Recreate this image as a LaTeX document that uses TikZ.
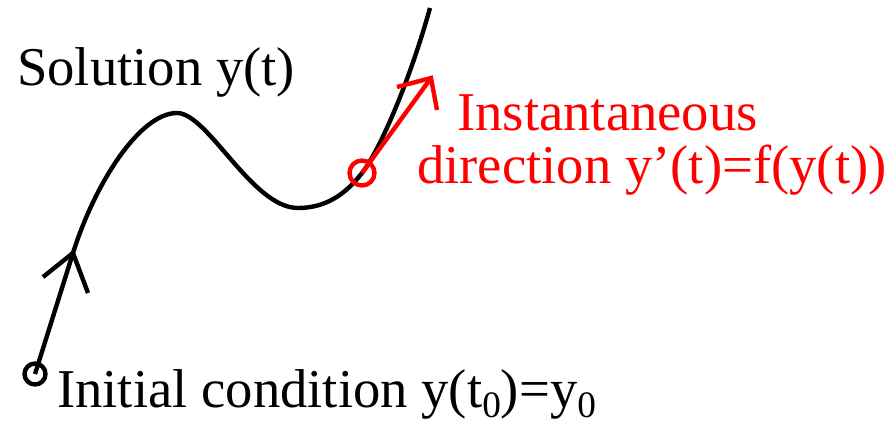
\documentclass[tikz,border=0pt]{standalone}
\usepackage{fontspec}
\setmainfont{Liberation Serif}
\newcommand{\lowzero}{\raisebox{-8pt}{\fontsize{28}{28}\selectfont 0}}
\begin{document}
\begin{tikzpicture}[x=0.75pt, y=-0.75pt, line width=3.3pt, line join=miter,
    lbl/.style={anchor=base west, inner sep=0pt, font=\rmfamily\fontsize{41}{48}\selectfont}]
  \useasboundingbox (0,0) rectangle (894,425);
  % 초기값과 해 곡선
  \coordinate (start) at (35,374);
  \coordinate (barb) at (73,253);
  \coordinate (peak) at (177,113);
  \coordinate (dip) at (298,208);
  \coordinate (pt) at (362,173);
  \coordinate (top) at (430,8);
  \draw (start) circle (10.5);
  \draw (start) -- (barb)
    .. controls (95,183) and (140,113) .. (peak)
    .. controls (208,113) and (252,208) .. (dip)
    .. controls (325,208) and (345,195) .. (pt)
    .. controls (380,150) and (410,80) .. (top);
  % 화살촉
  \draw (43,277) -- (barb) -- (88,293);
  % 순간 방향
  \coordinate (tip) at (431,78);
  \draw[red] (pt) circle (12.5);
  \draw[red] (pt) -- (tip);
  \draw[red] (397,87) -- (tip) -- (437,110);
  % 글자
  \node[lbl] (sol) at (15,85) {Solution y(t)};
  \node[lbl, text=red] (inst) at (455,130) {Instantaneous};
  \node[lbl, text=red] (dir) at (415,183) {direction y’(t)=f(y(t))};
  \node[lbl] (init) at (55,407) {Initial condition y(t\lowzero)=y\lowzero};
\end{tikzpicture}
\end{document}
